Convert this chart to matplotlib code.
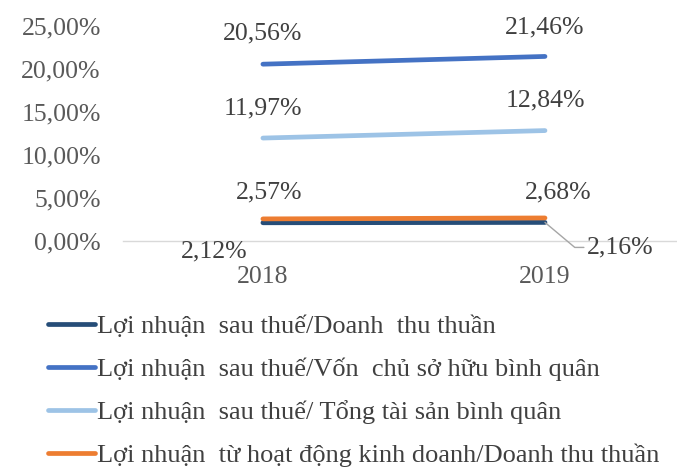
import matplotlib
matplotlib.use("Agg")
import matplotlib.pyplot as plt

years = ["2018", "2019"]
ros = [2.12, 2.16]
roe = [20.56, 21.46]
roa = [11.97, 12.84]
ops = [2.57, 2.68]
labels = [
    "Lợi nhuận  sau thuế/Doanh  thu thuần",
    "Lợi nhuận  sau thuế/Vốn  chủ sở hữu bình quân",
    "Lợi nhuận  sau thuế/ Tổng tài sản bình quân",
    "Lợi nhuận  từ hoạt động kinh doanh/Doanh thu thuần",
]
yticks = [0, 5, 10, 15, 20, 25]
ytick_labels = ["0,00%", "5,00%", "10,00%", "15,00%", "20,00%", "25,00%"]

colors = ["#264D78", "#4472C4", "#9DC3E6", "#ED7D31"]
txt = "#404040"

plt.rcParams["font.family"] = ["Liberation Serif", "DejaVu Serif"]

fig = plt.figure(figsize=(6.77, 4.68), dpi=100)
W, H = 677, 468
ax = fig.add_axes([123 / W, (H - 241) / H, 1 - 123 / W, (241 - 26) / H])
ax.set_xlim(-0.496, 1.468)
ax.set_ylim(0, 25)

x = [0, 1]
series = [ros, roe, roa, ops]
handles = []
for s, c, lab in zip(series, colors, labels):
    (h,) = ax.plot(x, s, color=c, lw=3.4, solid_capstyle="round", label=lab, clip_on=False)
    handles.append(h)

def fmt(v):
    return f"{v:.2f}".replace(".", ",") + "%"

fs = 18.5
offsets = {
    (1, 0): (0, 31), (1, 1): (0, 29),
    (2, 0): (0, 30), (2, 1): (0, 30),
    (3, 0): (6, 26), (3, 1): (13, 25),
    (0, 0): (-49, -29),
}
for si, s in enumerate(series):
    for i, v in enumerate(s):
        if (si, i) == (0, 1):
            ax.annotate(fmt(v), xy=(i, v), xytext=(75, -25), textcoords="offset pixels",
                        ha="center", va="center", fontsize=fs, color=txt,
                        arrowprops=dict(arrowstyle="-", color="#A6A6A6", lw=1.0,
                                        shrinkA=0, shrinkB=0,
                                        connectionstyle="angle,angleA=0,angleB=-40,rad=0",
                                        relpos=(0, 0.5)),
                        annotation_clip=False)
            continue
        dx, dy = offsets[(si, i)]
        ax.annotate(fmt(v), xy=(i, v), xytext=(dx, dy), textcoords="offset pixels",
                    ha="center", va="center", fontsize=fs, color=txt, annotation_clip=False)

ax.set_xticks(x)
ax.set_xticklabels(years, fontsize=fs, color="#595959")
ax.set_yticks(yticks)
ax.set_yticklabels(ytick_labels, fontsize=fs, color="#595959")
ax.tick_params(axis="both", length=0)
ax.tick_params(axis="y", pad=16)
ax.tick_params(axis="x", pad=18)
for sp in ["top", "right", "left"]:
    ax.spines[sp].set_visible(False)
ax.spines["bottom"].set_color("#D9D9D9")
ax.spines["bottom"].set_linewidth(1.0)
ax.patch.set_alpha(0)

lfs = 19
leg = fig.legend(handles=handles, labels=labels, loc="upper left",
                 bbox_to_anchor=(48 / W, 1 - 315 / H), frameon=False,
                 fontsize=lfs, handlelength=1.78, handletextpad=0.08,
                 labelspacing=0.73, borderaxespad=0, borderpad=0)
for t in leg.get_texts():
    t.set_color(txt)

fig.savefig("out.png", dpi=100)
